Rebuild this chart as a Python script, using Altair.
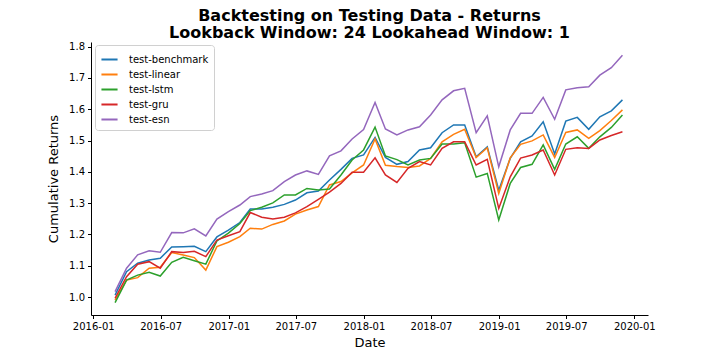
import altair as alt
import pandas as pd

dates = pd.date_range("2016-02-29", periods=46, freq="ME").strftime("%Y-%m-%d").tolist()

series_names = ["test-benchmark", "test-linear", "test-lstm", "test-gru", "test-esn"]
colors = ["#1f77b4", "#ff7f0e", "#2ca02c", "#d62728", "#9467bd"]

benchmark = [1.006, 1.081, 1.108, 1.118, 1.124, 1.160, 1.161, 1.162, 1.145, 1.192, 1.214, 1.238,
             1.281, 1.281, 1.287, 1.296, 1.310, 1.333, 1.339, 1.374, 1.408, 1.443, 1.454, 1.510,
             1.446, 1.424, 1.433, 1.470, 1.477, 1.525, 1.550, 1.550, 1.448, 1.480, 1.341, 1.443,
             1.496, 1.515, 1.560, 1.457, 1.562, 1.574, 1.536, 1.576, 1.595, 1.630]
linear = [0.990, 1.054, 1.062, 1.092, 1.095, 1.142, 1.134, 1.126, 1.086, 1.161, 1.175, 1.193,
          1.220, 1.217, 1.232, 1.243, 1.265, 1.278, 1.289, 1.358, 1.369, 1.397, 1.422, 1.505,
          1.421, 1.417, 1.414, 1.419, 1.443, 1.496, 1.520, 1.536, 1.446, 1.477, 1.331, 1.445,
          1.488, 1.499, 1.518, 1.446, 1.526, 1.534, 1.507, 1.532, 1.564, 1.598]
lstm = [0.982, 1.054, 1.070, 1.079, 1.067, 1.111, 1.127, 1.116, 1.105, 1.179, 1.204, 1.235,
        1.276, 1.287, 1.301, 1.326, 1.326, 1.347, 1.342, 1.345, 1.390, 1.438, 1.470, 1.543,
        1.451, 1.439, 1.422, 1.438, 1.443, 1.489, 1.489, 1.493, 1.383, 1.395, 1.246, 1.363,
        1.414, 1.424, 1.486, 1.408, 1.489, 1.512, 1.475, 1.512, 1.542, 1.582]
gru = [0.996, 1.065, 1.105, 1.113, 1.092, 1.145, 1.142, 1.146, 1.129, 1.182, 1.196, 1.209,
       1.270, 1.255, 1.249, 1.255, 1.269, 1.289, 1.312, 1.335, 1.363, 1.399, 1.399, 1.445,
       1.390, 1.366, 1.411, 1.433, 1.422, 1.475, 1.496, 1.496, 1.422, 1.440, 1.283, 1.384,
       1.444, 1.454, 1.470, 1.390, 1.472, 1.477, 1.475, 1.502, 1.516, 1.528]
esn = [1.017, 1.092, 1.135, 1.148, 1.143, 1.206, 1.205, 1.218, 1.195, 1.249, 1.273, 1.294,
       1.321, 1.329, 1.340, 1.369, 1.390, 1.403, 1.392, 1.451, 1.467, 1.505, 1.535, 1.622,
       1.537, 1.518, 1.534, 1.544, 1.582, 1.630, 1.659, 1.667, 1.525, 1.579, 1.416, 1.534,
       1.587, 1.587, 1.638, 1.568, 1.662, 1.669, 1.672, 1.709, 1.733, 1.773]

y_ticks = [1.0, 1.1, 1.2, 1.3, 1.4, 1.5, 1.6, 1.7, 1.8]
x_tick_months = [(2016, 1), (2016, 7), (2017, 1), (2017, 7), (2018, 1), (2018, 7),
                 (2019, 1), (2019, 7), (2020, 1)]

frames = []
for name, vals in zip(series_names, [benchmark, linear, lstm, gru, esn]):
    frames.append(pd.DataFrame({"Date": dates, "value": vals, "series": name}))
df = pd.concat(frames, ignore_index=True)

font = "DejaVu Sans"

chart = alt.Chart(df).mark_line(strokeWidth=1.5).encode(
    x=alt.X("Date:T",
            scale=alt.Scale(type="utc",
                            domain=[alt.DateTime(year=2015, month=12, date=26, utc=True),
                                    alt.DateTime(year=2020, month=2, date=7, utc=True)]),
            axis=alt.Axis(title="Date", format="%Y-%m",
                          values=[alt.DateTime(year=y, month=m, date=1, utc=True) for y, m in x_tick_months])),
    y=alt.Y("value:Q",
            scale=alt.Scale(domain=[0.9425, 1.815], nice=False, zero=False),
            axis=alt.Axis(title="Cumulative Returns", values=y_ticks, format=".1f")),
    color=alt.Color("series:N",
                    scale=alt.Scale(domain=series_names, range=colors),
                    legend=alt.Legend(title=None, orient="none", legendX=4, legendY=3,
                                      symbolType="stroke", symbolStrokeWidth=2, symbolSize=260,
                                      labelFontSize=10, labelFont=font, labelColor="black",
                                      fillColor="white", strokeColor="#d0d0d0", cornerRadius=3,
                                      padding=5, rowPadding=0, labelOffset=10)),
    order=alt.Order("Date:T"),
).properties(
    width=557, height=273,
    title=alt.TitleParams(
        text=["Backtesting on Testing Data - Returns", "Lookback Window: 24 Lookahead Window: 1"],
        fontSize=16, font=font, fontWeight="bold", color="black", anchor="middle",
        lineHeight=17, offset=0, dy=-1),
    autosize=alt.AutoSizeParams(type="none"),
    padding={"left": 83, "top": 34, "right": 20, "bottom": 40},
).configure_view(stroke=None).configure_axis(
    grid=False, labelFont=font, labelFontSize=10, labelColor="black",
    titleFont=font, titleFontSize=13, titleFontWeight="normal", titleColor="black",
    domainColor="black", tickColor="black", tickSize=3.5, labelPadding=3,
).configure_axisX(titlePadding=5).configure_axisY(titlePadding=8)

chart.save("out.html", embed_options={"renderer": "svg", "actions": False})
